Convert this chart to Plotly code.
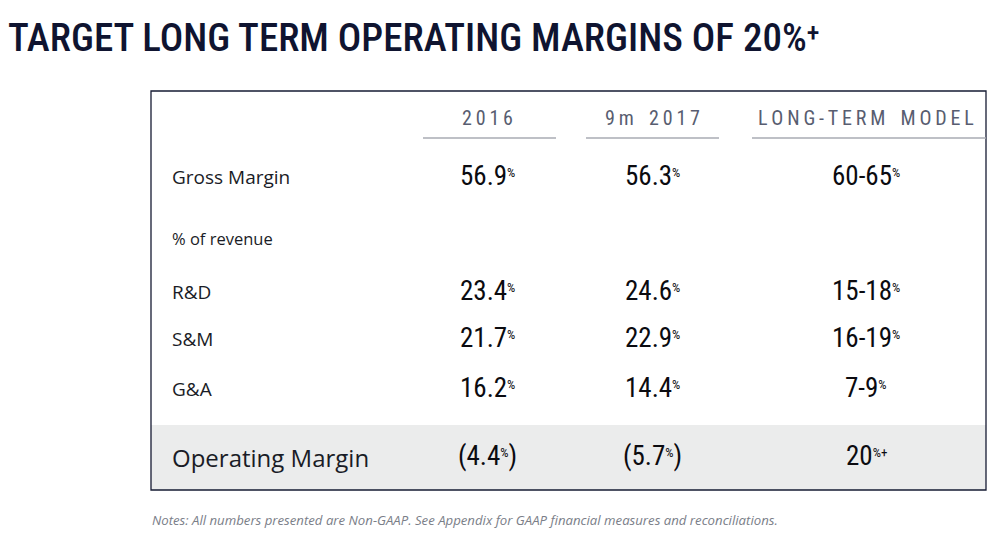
import plotly.graph_objects as go

# ---- data ----
title_main = "TARGET LONG TERM OPERATING MARGINS OF 20%"
title_tail = "+"
columns = ["2016", "9m 2017", "LONG-TERM MODEL"]
row_labels = ["Gross Margin", "R&D", "S&M", "G&A", "Operating Margin"]
sub_label = "% of revenue"
vals_2016 = [56.9, 23.4, 21.7, 16.2, -4.4]
vals_9m2017 = [56.3, 24.6, 22.9, 14.4, -5.7]
vals_longterm = ["60-65", "15-18", "16-19", "7-9", "20+"]
note = "Notes: All numbers presented are Non-GAAP. See Appendix for GAAP financial measures and reconciliations."

# ---- layout constants ----
W, H = 993, 535
NAVY = "#161b33"
HDR = "#585d70"
NUMF = "Roboto Condensed, Open Sans Condensed, DejaVu Sans Condensed, sans-serif"
LBLF = "Open Sans, Lato, sans-serif"

box = dict(x0=151, x1=986, y0=91, y1=490)
band_y0 = 425
col_x = [487, 652, 866]
col_lines = [(423, 556), (586, 719), (752, 986)]
row_y = [176, 291, 338, 388, 456]

PCT = "<span style='font-size:13px;baseline-shift:8px'>%</span>"
PCTP = "<span style='font-size:13px;baseline-shift:8px'>%+</span>"

def fmt_num(v):
    s = f"{abs(v):.1f}" + PCT
    return f"({s})" if v < 0 else s

def fmt_range(s):
    if s.endswith("+"):
        return s[:-1] + PCTP
    return s + PCT

def spaced(t):
    out = []
    for c in t:
        out.append("\u2009\u2009" if c == " " else c)
    return "\u2009".join(out)

fig = go.Figure()
fig.add_trace(go.Scatter(x=[0, W], y=[0, H], mode="markers", marker=dict(opacity=0),
                         hoverinfo="skip", showlegend=False))

shapes = []
shapes.append(dict(type="rect", xref="x", yref="y", x0=box["x0"], x1=box["x1"], y0=band_y0, y1=box["y1"],
                   fillcolor="#ebecec", line=dict(width=0), layer="below"))
shapes.append(dict(type="rect", xref="x", yref="y", x0=box["x0"], x1=box["x1"], y0=box["y0"], y1=box["y1"],
                   fillcolor="rgba(0,0,0,0)", line=dict(color=NAVY, width=1.3)))
for (a, b) in col_lines:
    shapes.append(dict(type="line", xref="x", yref="y", x0=a, x1=b, y0=138, y1=138,
                       line=dict(color="#a9abb3", width=1.5)))

ann = []
ann.append(dict(x=6, y=38, text=title_main + "<span style='font-size:26px;baseline-shift:10px'>" + title_tail + "</span>",
                xanchor="left", yanchor="middle",
                showarrow=False, font=dict(family=NUMF, size=39, color="#0f1430", weight=500)))
for cx, c in zip(col_x, columns):
    ann.append(dict(x=cx, y=118, text=spaced(c), xanchor="center", yanchor="middle", showarrow=False,
                    font=dict(family=NUMF, size=20, color=HDR)))
for i, (lab, y) in enumerate(zip(row_labels, row_y)):
    big = lab == "Operating Margin"
    ann.append(dict(x=170, y=y + 1, text=lab, xanchor="left", yanchor="middle", showarrow=False,
                    font=dict(family=LBLF, size=24 if big else 19, color="#1a1c26")))
    for cx, txt in ((col_x[0], fmt_num(vals_2016[i])),
                    (col_x[1], fmt_num(vals_9m2017[i])),
                    (col_x[2], fmt_range(vals_longterm[i]))):
        ann.append(dict(x=cx, y=y, text=txt, xanchor="center", yanchor="middle", showarrow=False,
                        font=dict(family=NUMF, size=27, color="#0b0b10")))
ann.append(dict(x=170, y=238, text=sub_label, xanchor="left", yanchor="middle", showarrow=False,
                font=dict(family=LBLF, size=16.5, color="#1a1c26")))
ann.append(dict(x=150, y=520, text=f"<i>{note}</i>", xanchor="left", yanchor="middle", showarrow=False,
                font=dict(family=LBLF, size=13.2, color="#7a7e88")))

fig.update_layout(
    width=W, height=H, margin=dict(l=0, r=0, t=0, b=0),
    paper_bgcolor="white", plot_bgcolor="white",
    xaxis=dict(range=[0, W], visible=False, fixedrange=True),
    yaxis=dict(range=[H, 0], visible=False, fixedrange=True),
    shapes=shapes, annotations=ann, showlegend=False,
)
fig.write_html("out.html", config={"displayModeBar": False},
               post_script="document.body.style.margin='0';")
